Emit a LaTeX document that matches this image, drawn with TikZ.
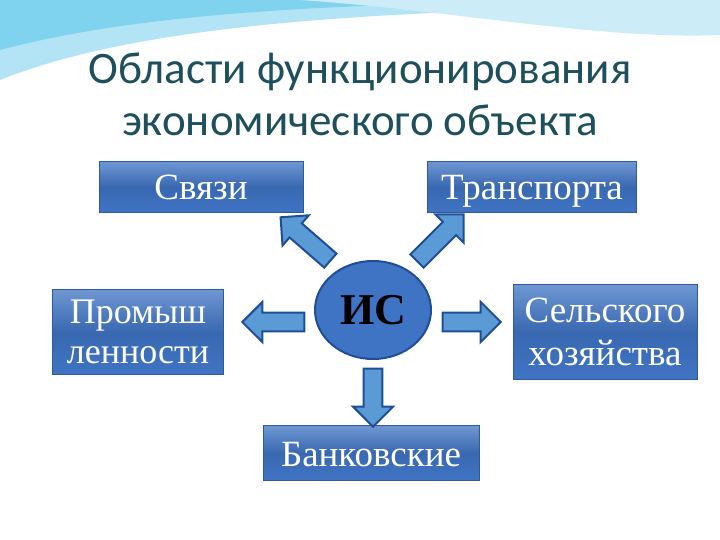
\documentclass[tikz,border=0pt]{standalone}
\usepackage{fontspec}
\setmainfont{Liberation Serif}
\newfontfamily\titlefont{Carlito}
\usetikzlibrary{shapes.arrows,shapes.geometric}
\definecolor{boxblue}{HTML}{3F74C4}
\definecolor{boxedge}{HTML}{2E5A9C}
\definecolor{arrfill}{HTML}{5B9BD5}
\definecolor{arredge}{HTML}{1F4E96}
\definecolor{titlecol}{HTML}{1E4F5C}
\definecolor{wave}{HTML}{7FD3EE}
\tikzset{
 box/.style={draw=boxedge,line width=1pt,top color=boxblue!75,bottom color=boxblue,middle color=boxblue!90!black,text=white,font=\fontsize{37}{42}\selectfont,inner sep=2pt,align=center},
 barrow/.style={single arrow,draw=arredge,line width=2pt,fill=arrfill,minimum width=40pt,single arrow head extend=8pt,inner sep=6pt}
}
\begin{document}
\begin{tikzpicture}[x=1pt,y=-1pt]
\useasboundingbox (0,0) rectangle (720,540);
\fill[white] (0,0) rectangle (720,540);
\fill[wave!60] (0,0) -- (0,80) .. controls (150,20) and (400,10) .. (720,5) -- (720,0) -- cycle;
\fill[wave] (0,0) -- (0,50) .. controls (150,10) and (350,5) .. (560,0) -- cycle;
\fill[wave!40] (300,0) .. controls (450,10) and (600,40) .. (720,35) -- (720,0) -- cycle;
\node[text=titlecol,font=\titlefont\fontsize{45}{52}\selectfont,align=center] (title) at (360,94) {Области функционирования\\экономического объекта};
\node[box,minimum width=204pt,minimum height=51pt,text height=26pt,text depth=0pt] (svyazi) at (201,187) {Связи};
\node[box,minimum width=209pt,minimum height=51pt,text height=26pt,text depth=0pt] (transp) at (532,187) {Транспорта};
\node[box,minimum width=171pt,minimum height=85pt,font=\fontsize{36}{40}\selectfont] (prom) at (138,332) {Промыш\\ленности};
\node[box,minimum width=184pt,minimum height=95pt,font=\fontsize{37}{43}\selectfont] (selsk) at (605,332) {Сельского\\хозяйства};
\node[box,minimum width=216pt,minimum height=55pt,text height=26pt,text depth=0pt] (bank) at (371,453) {Банковские};
\node[ellipse,draw=arredge,line width=2pt,fill=boxblue,minimum width=116pt,minimum height=98pt,font=\bfseries\fontsize{44}{46}\selectfont] (is) at (373,310) {ИС};
\node[barrow,minimum height=66pt,rotate=139] (a1) at (309,242) {};
\node[barrow,minimum height=66pt,rotate=45] (a2) at (437,241) {};
\node[barrow,minimum height=62pt,rotate=180] (a3) at (278,322) {};
\node[barrow,minimum height=58pt,rotate=0] (a4) at (467,322) {};
\node[barrow,minimum height=58pt,rotate=-90] (a5) at (373,393) {};
\end{tikzpicture}
\end{document}
